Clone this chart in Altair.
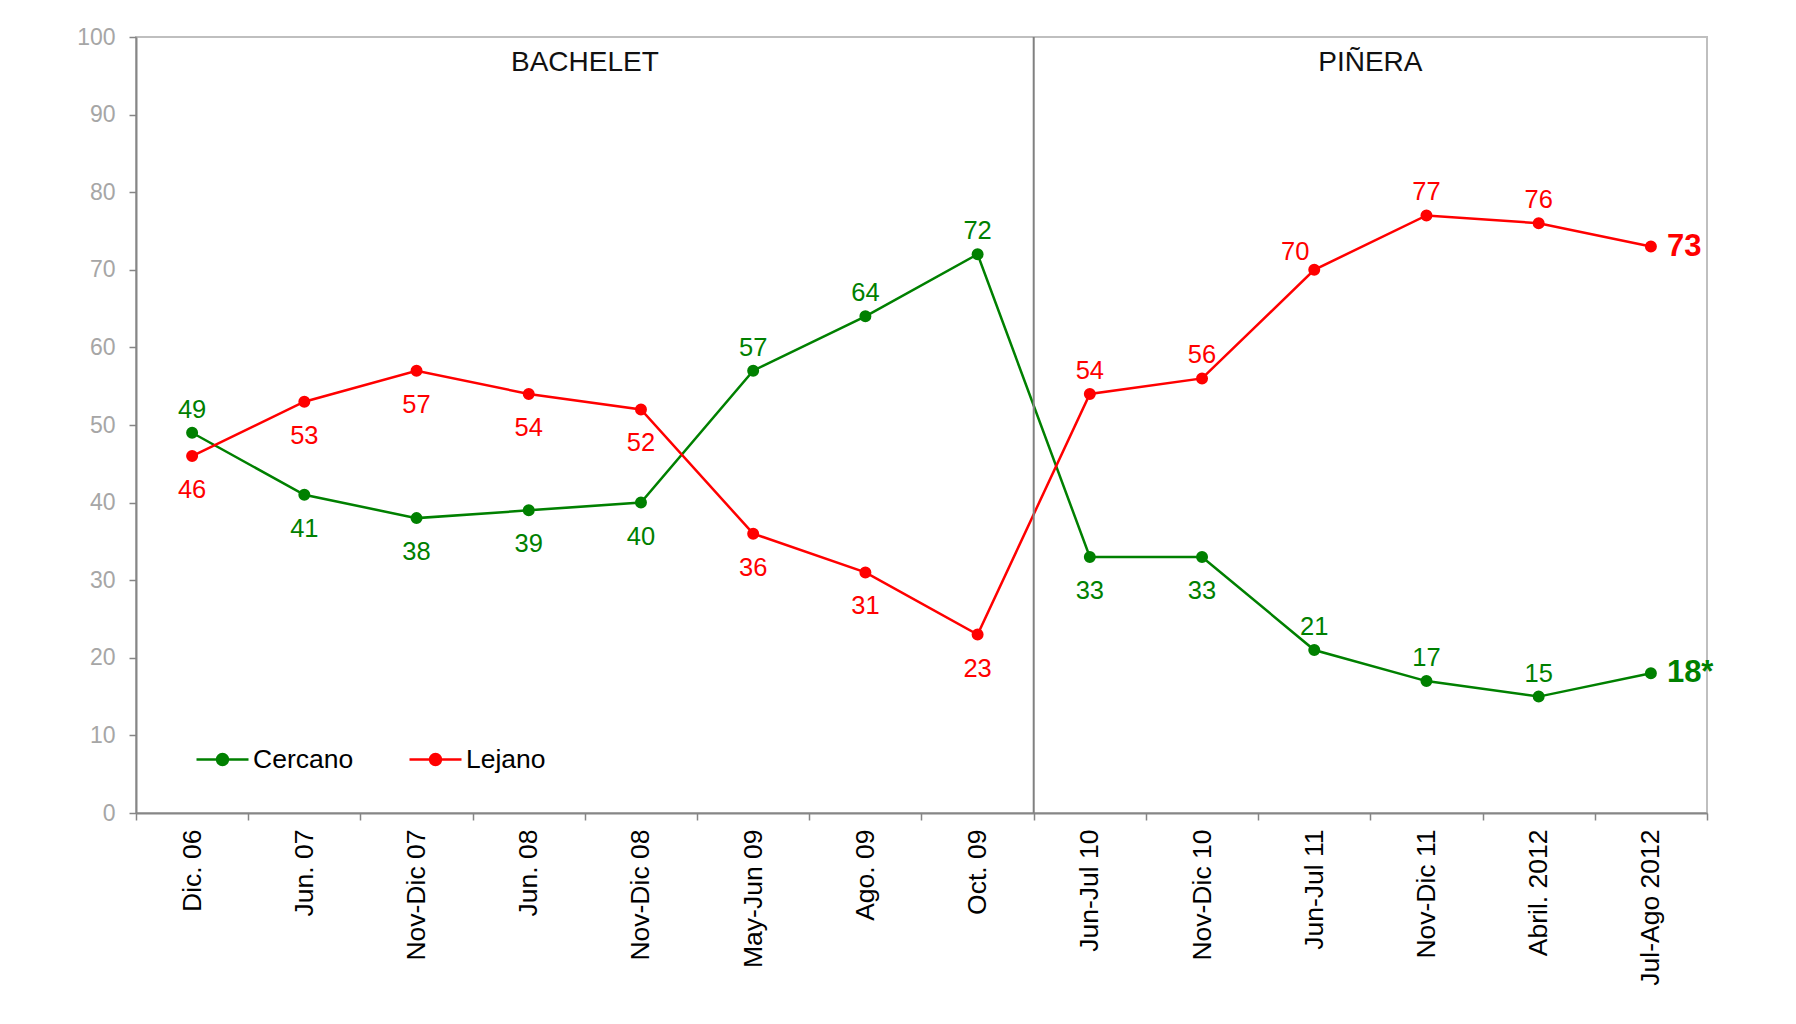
import altair as alt
import pandas as pd

periods = ["Dic. 06", "Jun. 07", "Nov-Dic 07", "Jun. 08", "Nov-Dic 08", "May-Jun 09",
           "Ago. 09", "Oct. 09", "Jun-Jul 10", "Nov-Dic 10", "Jun-Jul 11", "Nov-Dic 11",
           "Abril. 2012", "Jul-Ago 2012"]
cercano = [49, 41, 38, 39, 40, 57, 64, 72, 33, 33, 21, 17, 15, 18]
lejano = [46, 53, 57, 54, 52, 36, 31, 23, 54, 56, 70, 77, 76, 73]
cercano_text = ["49", "41", "38", "39", "40", "57", "64", "72", "33", "33", "21", "17", "15", "18*"]
lejano_text = ["46", "53", "57", "54", "52", "36", "31", "23", "54", "56", "70", "77", "76", "73"]
cercano_place = ["above", "below", "below", "below", "below", "above", "above", "above",
                 "below", "below", "above", "above", "above", "end"]
lejano_place = ["below", "below", "below", "below", "below", "below", "below", "below",
                "above", "above", "above_left", "above", "above", "end"]
series_names = ["Cercano", "Lejano"]
series_colors = ["#008000", "#ff0000"]
eras = ["BACHELET", "PIÑERA"]
era_centers = ["Nov-Dic 08", "Nov-Dic 11"]
era_divider = ["Jun-Jul 10"]

FONT = "Liberation Sans"

rows = []
for name, vals, texts, places in [("Cercano", cercano, cercano_text, cercano_place),
                                  ("Lejano", lejano, lejano_text, lejano_place)]:
    for p, v, t, pl in zip(periods, vals, texts, places):
        rows.append({"period": p, "value": v, "series": name, "label": t, "place": pl})
df = pd.DataFrame(rows)

x_scale = alt.Scale(type="band", domain=periods, paddingInner=0, paddingOuter=0)
y_scale = alt.Scale(domain=[0, 100], nice=False)
c_scale = alt.Scale(domain=series_names, range=series_colors)

x_axis = alt.Axis(labelAngle=-90, tickBand="extent", labelFont=FONT, labelFontSize=26.5,
                  labelColor="#000000", domainColor="#868686", domainWidth=2,
                  tickColor="#868686", tickWidth=1.5, tickSize=7, labelPadding=9,
                  grid=False, title=None)
y_axis = alt.Axis(values=list(range(0, 101, 10)), labelFont=FONT, labelFontSize=23,
                  labelColor="#a6a6a6", domainColor="#868686", domainWidth=2,
                  tickColor="#868686", tickWidth=1.5, tickSize=7, labelPadding=14,
                  grid=False, title=None)

legend = alt.Legend(
    title=None, orient="none", legendX=59, legendY=695, direction="horizontal",
    symbolType="M-1,0H1M0.21,0A0.21,0.21,0,1,1,-0.21,0A0.21,0.21,0,1,1,0.21,0Z",
    symbolSize=2704, symbolStrokeWidth=2.5, labelFont=FONT, labelFontSize=26.5,
    labelColor="#000000", labelOffset=3, columnPadding=50, padding=0)


def xenc(field="period:N", band=0.5):
    return alt.X(field, scale=x_scale, axis=x_axis, bandPosition=band, title=None)


def yenc(field="value:Q"):
    return alt.Y(field, scale=y_scale, axis=y_axis, title=None)


FILL = alt.Fill("series:N", scale=c_scale, legend=legend)
STROKE = alt.Stroke("series:N", scale=c_scale, legend=legend)

base = alt.Chart(df)

divider = alt.Chart(pd.DataFrame({"period": era_divider})).mark_rule(
    color="#808080", strokeWidth=2).encode(x=xenc(band=0))

titles = alt.Chart(pd.DataFrame({"period": era_centers, "name": eras, "value": [96.6, 96.6]})).mark_text(
    font=FONT, fontSize=28, color="#111111", baseline="middle").encode(
    x=xenc(band=0), y=yenc(), text="name:N")

lines = base.mark_line(strokeWidth=2.5).encode(
    x=xenc(), y=yenc(), stroke=STROKE, order=alt.Order("series:N"))

points = base.mark_point(filled=True, shape="circle", size=100, opacity=1).encode(
    x=xenc(), y=yenc(), fill=FILL, stroke=STROKE)


def labels(place, **kw):
    return base.transform_filter(alt.datum.place == place).mark_text(
        font=FONT, baseline="middle", **kw).encode(
        x=xenc(), y=yenc(), text="label:N", fill=FILL)


lab_above = labels("above", fontSize=25.5, dy=-23)
lab_above_left = labels("above_left", fontSize=25.5, dy=-18, dx=-19)
lab_below = labels("below", fontSize=25.5, dy=34)
lab_end = labels("end", fontSize=31, fontWeight="bold", align="left", dx=16)

chart = alt.layer(points, lines, divider, titles, lab_above, lab_above_left, lab_below, lab_end).properties(
    width=1571, height=776,
    autosize=alt.AutoSizeParams(type="none"),
    padding={"left": 128, "top": 29, "right": 81, "bottom": 200},
    background="#ffffff",
).configure_view(stroke="#bfbfbf", strokeWidth=2)

chart.save("out.html", embed_options={"renderer": "svg", "actions": False})
